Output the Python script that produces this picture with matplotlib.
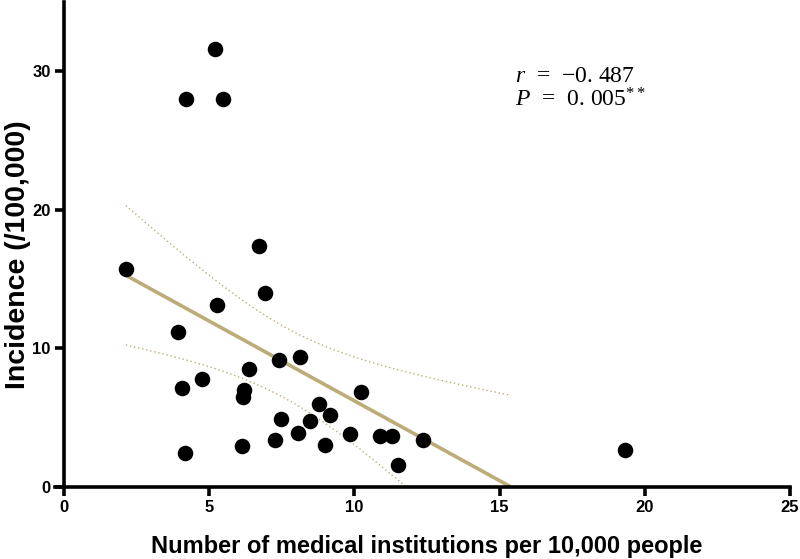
import numpy as np
import matplotlib
matplotlib.use("Agg")
import matplotlib.pyplot as plt
from matplotlib import font_manager

x_vals = [2.13, 5.2, 4.2, 5.48, 6.71, 6.92, 5.27, 3.93, 4.06, 4.75, 6.37, 6.2, 6.16, 4.17,
          6.13, 7.4, 8.13, 7.47, 7.26, 8.06, 8.48, 8.78, 9.16, 8.99, 9.85, 10.23, 10.88,
          11.29, 11.5, 12.36, 19.32]
y_vals = [15.7, 31.6, 28.0, 28.0, 17.4, 14.0, 13.1, 11.2, 7.16, 7.8, 8.5, 7.0, 6.5, 2.46,
          2.96, 9.2, 9.4, 4.9, 3.4, 3.9, 4.77, 6.0, 5.2, 3.04, 3.83, 6.87, 3.69,
          3.69, 1.6, 3.4, 2.68]
x_ticks = [0, 5, 10, 15, 20, 25]
y_ticks = [0, 10, 20, 30]
annot_r = "\u22120. 487"
annot_p = "0. 005"

plt.rcParams["mathtext.fontset"] = "custom"
plt.rcParams["mathtext.rm"] = "Liberation Serif"
plt.rcParams["mathtext.it"] = "Liberation Serif:italic"

names = {f.name for f in font_manager.fontManager.ttflist}
sans = "Liberation Sans Narrow" if "Liberation Sans Narrow" in names else "Liberation Sans"

x = np.array(x_vals)
y = np.array(y_vals)
n = len(x)
b, a = np.polyfit(x, y, 1)
x_end = min(x.max(), -a / b)
xf = np.linspace(x.min(), x_end, 300)
yf = a + b * xf
res = y - (a + b * x)
s = np.sqrt(np.sum(res**2) / (n - 2))
sxx = np.sum((x - x.mean())**2)
tval = 2.045
se = s * np.sqrt(1 / n + (xf - x.mean())**2 / sxx)
upper = yf + tval * se
lower = yf - tval * se

fig = plt.figure(figsize=(8, 5.59), dpi=100)
ax = fig.add_axes([0.08, 0.1288, 0.9075, 0.8676])
line_col = "#BCAC78"
ax.plot(xf, yf, color=line_col, lw=2.6, zorder=2, solid_capstyle="butt")
ax.plot(xf, upper, color=line_col, lw=1.0, ls=(0, (1, 2)), zorder=2)
ml = lower >= 0
ax.plot(xf[ml], lower[ml], color=line_col, lw=1.0, ls=(0, (1, 2)), zorder=2)
ax.scatter(x, y, s=125, color="black", zorder=3, linewidths=0)

ax.set_xlim(0, 25)
ax.set_ylim(0, 35)
ax.set_xticks(x_ticks)
ax.set_yticks(y_ticks)
for sp in ["top", "right"]:
    ax.spines[sp].set_visible(False)
for sp in ["left", "bottom"]:
    ax.spines[sp].set_linewidth(2.6)
ax.tick_params(axis="both", width=2.6, length=6.5, direction="out", pad=3)
for lab in ax.get_xticklabels() + ax.get_yticklabels():
    lab.set_fontfamily(sans)
    lab.set_fontweight("bold")
    lab.set_fontsize(12)
ax.set_xlabel("Number of medical institutions per 10,000 people", fontfamily=sans,
              fontweight="bold", fontsize=17, labelpad=14)
ax.set_ylabel("Incidence (/100,000)", fontfamily=sans, fontweight="bold", fontsize=20.5)
ax.yaxis.set_label_coords(-0.045, 0.48)
ax.spines["bottom"].set_bounds(-0.3, 25)

ax.text(0.621, 0.847, r"$\mathit{r}$  =  " + annot_r, transform=ax.transAxes,
        fontfamily="Liberation Serif", fontsize=17, va="center")
ax.text(0.621, 0.798, r"$\mathit{P}$  =  " + annot_p + r"$^{**}$", transform=ax.transAxes,
        fontfamily="Liberation Serif", fontsize=17, va="center")

fig.savefig("out.png", dpi=100)
